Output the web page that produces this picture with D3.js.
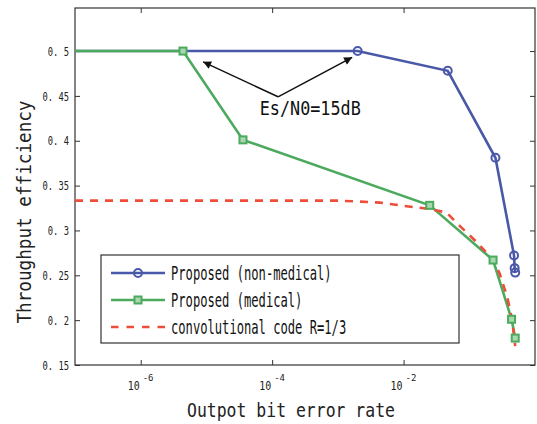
<!DOCTYPE html>
<html><head><meta charset="utf-8">
<script src="https://cdn.jsdelivr.net/npm/d3@7"></script>
<style>body{margin:0;background:#fff}svg{display:block}</style>
</head><body>
<svg id="c" width="537" height="424"></svg>
<script>
// ---- data ----
const nonMedBER = [1e-7, 2e-3, 0.047, 0.25, 0.48, 0.49, 0.5];
const nonMedThr = [0.5, 0.5, 0.478, 0.381, 0.272, 0.258, 0.253];
const nonMedMarker = [false, true, true, true, true, true, true];
const medBER = [1e-7, 4.4e-6, 3.6e-5, 0.025, 0.23, 0.44, 0.5];
const medThr = [0.5, 0.5, 0.401, 0.328, 0.267, 0.201, 0.18];
const medMarker = [false, true, true, true, true, true, true];
const convBER = [1e-7, 1e-3, 4.4e-3, 0.014, 0.025, 0.045, 0.065, 0.13, 0.23, 0.29, 0.38, 0.45, 0.5];
const convThr = [0.3333, 0.3333, 0.331, 0.326, 0.324, 0.32, 0.308, 0.287, 0.267, 0.252, 0.225, 0.2, 0.171];
const xTicks = [1e-6, 1e-4, 1e-2];
const xTickExp = ["-6", "-4", "-2"];
const yTicks = [0.15, 0.2, 0.25, 0.3, 0.35, 0.4, 0.45, 0.5];
const yTickLabels = ["0. 15", "0. 2", "0. 25", "0. 3", "0. 35", "0. 4", "0. 45", "0. 5"];
const legendLabels = ["Proposed (non-medical)", "Proposed (medical)", "convolutional code R=1/3"];
const annotText = "Es/N0=15dB";
const annotVertex = [1.23e-4, 0.449];
const annotTips = [[8.9e-6, 0.488], [1.65e-3, 0.493]];
const annotTextPos = [3.8e-4, 0.4287];
const xTitle = "Outpot bit error rate";
const yTitle = "Throughput efficiency";

// ---- layout ----
const L = 75, R = 535, T = 8, B = 365;
const blue = "#4a58a8", green = "#4caa5e", red = "#ee4d3a";
const font = "'DejaVu Sans Mono', monospace";
const svg = d3.select("#c");
const x = d3.scaleLog().domain([1e-7, 1]).range([L, R]);
const y = d3.scaleLinear().domain([0.15, 0.548]).range([B, T]);

// frame
svg.append("rect").attr("x", L).attr("y", T).attr("width", R - L).attr("height", B - T)
  .attr("fill", "none").attr("stroke", "#333").attr("stroke-width", 1.2);

// axes (inward ticks)
const axB = d3.axisBottom(x).tickValues(xTicks).tickSize(-5).tickFormat("");
const axT = d3.axisTop(x).tickValues(xTicks).tickSize(-5).tickFormat("");
const axL = d3.axisLeft(y).tickValues(yTicks).tickSize(-5).tickFormat("");
const axR = d3.axisRight(y).tickValues(yTicks).tickSize(-5).tickFormat("");
[[axB, `translate(0,${B})`], [axT, `translate(0,${T})`], [axL, `translate(${L},0)`], [axR, `translate(${R},0)`]]
  .forEach(([a, t]) => {
    const g = svg.append("g").attr("transform", t).call(a);
    g.select(".domain").remove();
    g.selectAll("line").attr("stroke", "#333");
  });

// y tick labels
svg.append("g").selectAll("text").data(yTicks).join("text")
  .attr("x", L - 6).attr("y", d => y(d)).attr("dy", "0.36em")
  .attr("text-anchor", "end").attr("font-family", font).attr("font-size", 13).attr("fill", "#222")
  .attr("textLength", (d, i) => yTickLabels[i].length * 5.3).attr("lengthAdjust", "spacingAndGlyphs")
  .text((d, i) => yTickLabels[i]);

// x tick labels
const xl = svg.append("g").selectAll("text").data(xTicks).join("text")
  .attr("x", d => x(d) - 13).attr("y", 390)
  .attr("font-family", font).attr("font-size", 13).attr("fill", "#222");
xl.append("tspan").text("10").attr("textLength", 12).attr("lengthAdjust", "spacingAndGlyphs");
xl.append("tspan").attr("dx", 3).attr("dy", -9).attr("font-size", 9).text((d, i) => xTickExp[i]);

// titles
svg.append("text").attr("x", 291).attr("y", 417).attr("text-anchor", "middle")
  .attr("font-family", font).attr("font-size", 20).attr("fill", "#222")
  .attr("textLength", 208).attr("lengthAdjust", "spacingAndGlyphs").text(xTitle);
svg.append("text").attr("transform", "translate(31,212) rotate(-90)").attr("text-anchor", "middle")
  .attr("font-family", font).attr("font-size", 20).attr("fill", "#222")
  .attr("textLength", 223).attr("lengthAdjust", "spacingAndGlyphs").text(yTitle);

// lines
const line = d3.line().x(d => x(d[0])).y(d => y(d[1]));
const nonMed = nonMedBER.map((v, i) => [v, nonMedThr[i], nonMedMarker[i]]);
const med = medBER.map((v, i) => [v, medThr[i], medMarker[i]]);
const conv = convBER.map((v, i) => [v, convThr[i]]);

svg.append("path").datum(nonMed).attr("d", line).attr("fill", "none").attr("stroke", blue).attr("stroke-width", 2.6);
svg.append("path").datum(med).attr("d", line).attr("fill", "none").attr("stroke", green).attr("stroke-width", 2.6);
svg.append("path").datum(conv).attr("d", line).attr("fill", "none").attr("stroke", red).attr("stroke-width", 2.6)
  .attr("stroke-dasharray", "8,7");

svg.append("g").selectAll("circle").data(nonMed.filter(d => d[2])).join("circle")
  .attr("cx", d => x(d[0])).attr("cy", d => y(d[1])).attr("r", 4)
  .attr("fill", "none").attr("stroke", blue).attr("stroke-width", 2);
svg.append("g").selectAll("rect").data(med.filter(d => d[2])).join("rect")
  .attr("x", d => x(d[0]) - 3.5).attr("y", d => y(d[1]) - 3.5).attr("width", 7).attr("height", 7)
  .attr("fill", "#a8d8b0").attr("stroke", green).attr("stroke-width", 2);

// annotation
const defs = svg.append("defs");
defs.append("marker").attr("id", "ah").attr("viewBox", "0 0 10 10").attr("refX", 10).attr("refY", 5)
  .attr("markerWidth", 11).attr("markerHeight", 8).attr("markerUnits", "userSpaceOnUse").attr("orient", "auto")
  .append("path").attr("d", "M0,0 L10,5 L0,10 Z").attr("fill", "#111");
annotTips.forEach(t => {
  svg.append("line").attr("x1", x(annotVertex[0])).attr("y1", y(annotVertex[1]))
    .attr("x2", x(t[0])).attr("y2", y(t[1])).attr("stroke", "#111").attr("stroke-width", 1.5)
    .attr("marker-end", "url(#ah)");
});
svg.append("text").attr("x", x(annotTextPos[0])).attr("y", y(annotTextPos[1])).attr("text-anchor", "middle")
  .attr("font-family", font).attr("font-size", 20).attr("fill", "#111")
  .attr("textLength", 101).attr("lengthAdjust", "spacingAndGlyphs").text(annotText);

// legend
const lg = svg.append("g");
lg.append("rect").attr("x", 101).attr("y", 255).attr("width", 358).attr("height", 88)
  .attr("fill", "#fff").attr("stroke", "#333").attr("stroke-width", 1.2);
const rows = [273, 300, 327];
const cols = [blue, green, red];
legendLabels.forEach((lab, i) => {
  const yy = rows[i];
  const ln = lg.append("line").attr("x1", 111).attr("x2", 165).attr("y1", yy).attr("y2", yy)
    .attr("stroke", cols[i]).attr("stroke-width", 2.6);
  if (i === 2) ln.attr("stroke-dasharray", "7.5,8");
  if (i === 0) lg.append("circle").attr("cx", 138).attr("cy", yy).attr("r", 4)
    .attr("fill", "none").attr("stroke", blue).attr("stroke-width", 2);
  if (i === 1) lg.append("rect").attr("x", 134.5).attr("y", yy - 3.5).attr("width", 7).attr("height", 7)
    .attr("fill", "#a8d8b0").attr("stroke", green).attr("stroke-width", 2);
  lg.append("text").attr("x", 171).attr("y", yy).attr("dy", "0.36em")
    .attr("font-family", font).attr("font-size", 20).attr("fill", "#111")
    .attr("textLength", lab.length * 7.3).attr("lengthAdjust", "spacingAndGlyphs").text(lab);
});
</script>
</body></html>
